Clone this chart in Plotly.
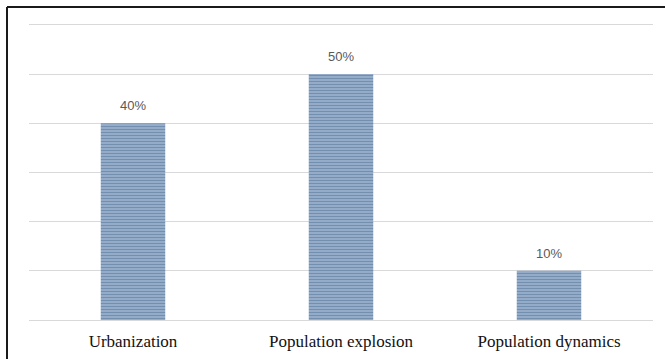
import plotly.graph_objects as go

# Survey shares by topic
categories = ["Urbanization", "Population explosion", "Population dynamics"]
shares = [40, 50, 10]
share_labels = ["40%", "50%", "10%"]

W, H = 665, 359
L, R, T, B = 29, 12, 20, 39
plot_w = W - L - R
plot_h = H - T - B

fig = go.Figure(
    go.Bar(
        x=categories,
        y=shares,
        marker=dict(
            color="#a9bfdb",
            line=dict(width=0),
            pattern=dict(shape="-", fgcolor="#345781", bgcolor="#b3c6df",
                         size=3, solidity=0.65, fillmode="overlay"),
        ),
        hoverinfo="skip",
    )
)

# Value labels above each bar
for cat, val, lab in zip(categories, shares, share_labels):
    fig.add_annotation(x=cat, y=val, text=lab, showarrow=False,
                       yanchor="bottom", yshift=8,
                       font=dict(family="Liberation Sans, Arial, sans-serif",
                                 size=13, color="#595959"))

# Frame around the chart area (top and left edges)
fx0 = (7 - L) / plot_w
fy_top = 1 + (T - 7) / plot_h
fig.add_shape(type="line", xref="paper", yref="paper",
              x0=fx0, x1=1 + R / plot_w, y0=fy_top, y1=fy_top,
              line=dict(color="#1a1a1a", width=2))
fig.add_shape(type="line", xref="paper", yref="paper",
              x0=fx0, x1=fx0, y0=fy_top, y1=-B / plot_h,
              line=dict(color="#1a1a1a", width=2))

fig.update_layout(
    width=W, height=H,
    margin=dict(l=L, r=R, t=T, b=B),
    paper_bgcolor="white", plot_bgcolor="white",
    bargap=0.69,
    showlegend=False,
    xaxis=dict(
        showline=False, showgrid=False, ticks="",
        automargin=False,
        ticklabelstandoff=9,
        tickfont=dict(family="Liberation Serif, Times New Roman, serif", size=17, color="#111111"),
    ),
    yaxis=dict(
        range=[0, 61], tickvals=[0, 10, 20, 30, 40, 50, 60], showticklabels=False,
        showgrid=True, gridcolor="#d9d9d9", gridwidth=1,
        zeroline=True, zerolinecolor="#d9d9d9", zerolinewidth=1,
        showline=False, ticks="", automargin=False,
    ),
)

fig.write_html("out.html")
